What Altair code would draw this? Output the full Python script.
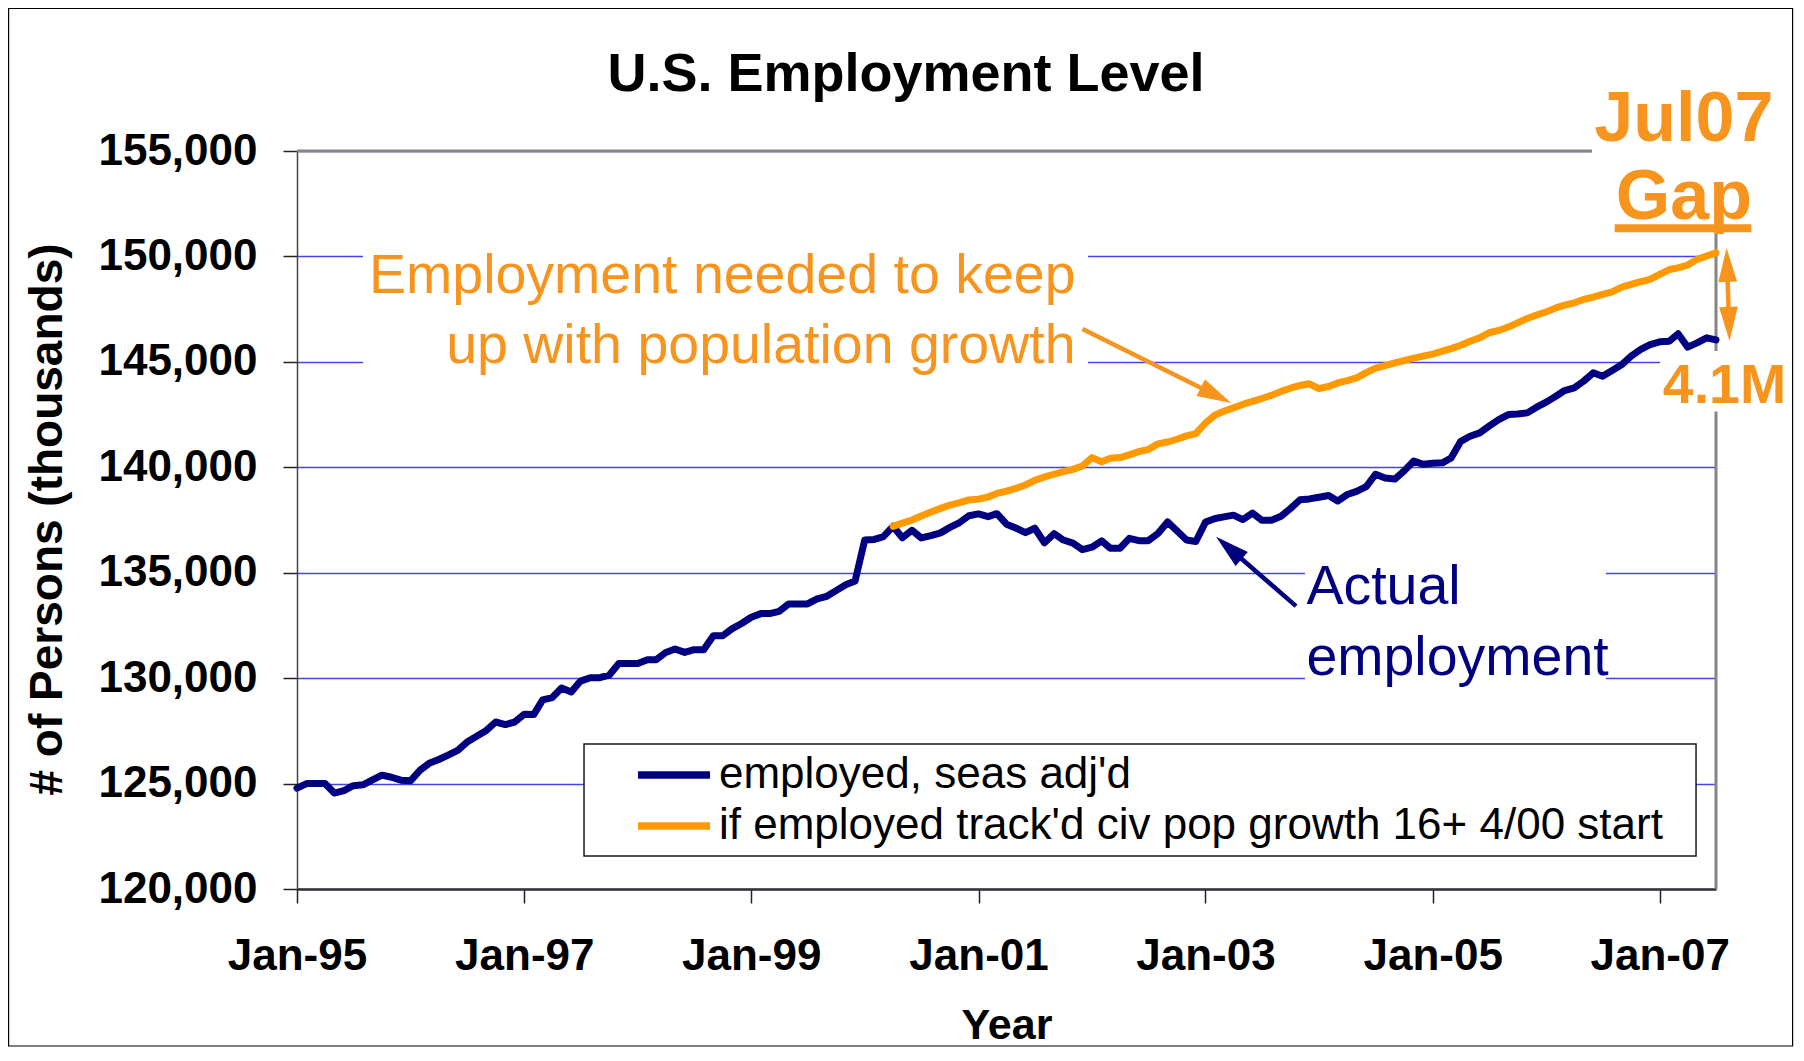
import altair as alt
import pandas as pd

# ---------------- data ----------------
SERIES = ["employed, seas adj'd", "if employed track'd civ pop growth 16+ 4/00 start"]
FIRST_MONTH = "1995-01-01"
LAST_MONTH = "2007-07-01"
NEEDED_FIRST_MONTH = "2000-04-01"

# employed, seasonally adjusted (thousands), Jan-95 .. Jul-07
employed = [
    124780, 125000, 125000, 125000, 124550, 124670, 124900, 124940, 125170, 125400, 125300, 125160,
    125130, 125640, 125960, 126140, 126350, 126580, 126970, 127240, 127520, 127920, 127800, 127920,
    128290, 128280, 128970, 129080, 129530, 129340, 129860, 130020, 130020, 130140, 130690, 130690,
    130690, 130870, 130870, 131220, 131380, 131220, 131350, 131350, 132010, 132010, 132350, 132590,
    132890, 133060, 133060, 133170, 133520, 133520, 133520, 133760, 133880, 134150, 134430, 134610,
    136550, 136580, 136710, 137200, 136660, 137010, 136650, 136760, 136890, 137150, 137380, 137700,
    137790, 137660, 137800, 137300, 137120, 136900, 137110, 136420, 136850, 136550, 136400, 136090,
    136210, 136510, 136160, 136160, 136630, 136520, 136520, 136860, 137410, 136990, 136550, 136480,
    137400, 137570, 137650, 137730, 137520, 137830, 137490, 137490, 137680, 138040, 138460, 138500,
    138580, 138660, 138400, 138710, 138860, 139080, 139670, 139490, 139440, 139830, 140300, 140140,
    140190, 140210, 140440, 141230, 141470, 141630, 141950, 142260, 142500, 142530, 142580, 142850,
    143090, 143370, 143640, 143770, 144080, 144480, 144320, 144590, 144870, 145270, 145590, 145820,
    145950, 145980, 146330, 145700, 145900, 146140, 146040,
]

# employment needed to track civilian population growth, Apr-00 .. Jul-07
needed = [
    137200, 137350, 137500, 137690, 137880, 138050, 138210, 138320, 138450,
    138490, 138590, 138760, 138870, 139000, 139160, 139380, 139540, 139670, 139790, 139900, 140060,
    140460, 140260, 140430, 140460, 140590, 140750, 140840, 141110, 141200, 141330, 141490, 141600,
    142100, 142480, 142660, 142820, 142980, 143130, 143260, 143410, 143600, 143750, 143880, 143960,
    143730, 143830, 144000, 144110, 144240, 144490, 144700, 144820, 144950, 145060, 145180, 145270,
    145370, 145510, 145630, 145790, 145980, 146140, 146380, 146490, 146650, 146850, 147060, 147220,
    147370, 147560, 147690, 147800, 147960, 148070, 148200, 148320, 148540, 148670, 148800, 148910,
    149150, 149380, 149460, 149590, 149860, 150020, 150170,
]

X_TICK_YEARS = [1995, 1997, 1999, 2001, 2003, 2005, 2007]
Y_TICKS = [120000, 125000, 130000, 135000, 140000, 145000, 150000, 155000]
Y_DOMAIN = [120000, 155000]

TITLE = "U.S. Employment Level"
X_TITLE = "Year"
Y_TITLE = "# of Persons (thousands)"

# annotations (x in months after Jan-95, y in thousands of persons)
NEED_TEXT = ["Employment needed to keep", "up with population growth"]
NEED_M = [82.3, 82.3]
NEED_V = [148266, 144946]

ACTUAL_TEXT = ["Actual", "employment"]
ACTUAL_M = [106.7, 106.7]
ACTUAL_V = [133531, 130149]

GAP_TEXT = ["Jul07", "Gap"]
GAP_M = [146.6, 146.6]
GAP_V = [155465, 151790]
GAP_UNDERLINE = (139.29, 153.73, 151339)

GAP_VALUE_TEXT = ["4.1M"]
GAP_VALUE_M = [150.9]
GAP_VALUE_V = [143054]

# arrows: shaft (m0, v0, m1, v1)
ORANGE_SHAFTS = [(83.03, 146563, 96.96, 143457), (151.17, 149646, 151.38, 146754)]
NAVY_SHAFTS = [(105.61, 133417, 98.50, 136182)]
# arrow heads: (m, v, angle)
ORANGE_HEADS = [(98.75, 143054, 116.5), (151.12, 150405, 358.2), (151.43, 145995, 178.2)]
NAVY_HEADS = [(97.15, 136708, 311.0)]

# white backgrounds of the text boxes: (m0, m1, v0, v1)
TEXT_BOXES = [
    (6.98, 83.62, 150779, 144140),
    (106.55, 138.37, 135840, 129438),
    (136.89, 157.8, 159316, 151071),
    (144.08, 157.8, 145515, 142646),
]
LEGEND_BOX = (30.34, 147.89, 126877, 121565)

# ---------------- helpers ----------------
T0 = pd.Timestamp(FIRST_MONTH)
T1 = pd.Timestamp(LAST_MONTH)
SPAN = 150.0


def fmt(ts):
    return pd.Timestamp(ts).strftime("%Y-%m-%dT%H:%M:%S")


def mdate(m):
    return fmt(T0 + (T1 - T0) * (m / SPAN))


FONT = "Liberation Sans"
NAVY = "#000080"
ORANGE = "#FF9900"
ORANGE_TXT = "#F7941D"
GRID = "#4343EE"

months = pd.date_range(T0, T1, freq="MS")
need_months = pd.date_range(pd.Timestamp(NEEDED_FIRST_MONTH), T1, freq="MS")
df = pd.concat([
    pd.DataFrame({"date": [fmt(d) for d in months], "value": employed, "series": SERIES[0]}),
    pd.DataFrame({"date": [fmt(d) for d in need_months], "value": needed, "series": SERIES[1]}),
])

xscale = alt.Scale(domain=[alt.DateTime(year=1995, month=1, date=1),
                           alt.DateTime(year=2007, month=7, date=1)])
yscale = alt.Scale(domain=Y_DOMAIN, nice=False, zero=False)

xaxis = alt.Axis(
    values=[alt.DateTime(year=y, month=1, date=1) for y in X_TICK_YEARS],
    format="%b-%y", title=X_TITLE, grid=False,
    labelFont=FONT, labelFontSize=44, labelFontWeight="bold", labelColor="black",
    labelPadding=31, labelFlush=False, labelOverlap=False,
    tickSize=14, tickColor="#222222", tickWidth=1.5,
    domainColor="#333333", domainWidth=2.5,
    titleFont=FONT, titleFontSize=43, titleFontWeight="bold", titleColor="black",
    titleY=149, titleBaseline="alphabetic",
)
yaxis = alt.Axis(
    values=Y_TICKS, format=",d", title=Y_TITLE, grid=True,
    gridColor=GRID, gridWidth=1.3,
    labelFont=FONT, labelFontSize=44, labelFontWeight="bold", labelColor="black",
    labelPadding=26, labelOverlap=False,
    tickSize=14, tickColor="#222222", tickWidth=1.5,
    domainColor="#444444", domainWidth=1.5,
    titleFont=FONT, titleFontSize=46, titleFontWeight="bold", titleColor="black",
    titleAngle=270, titleX=-236, titleY=368, titleAlign="center", titleBaseline="alphabetic",
)


def X(field="date"):
    return alt.X(f"{field}:T", scale=xscale, axis=xaxis)


def Y(field="value"):
    return alt.Y(f"{field}:Q", scale=yscale, axis=yaxis)


one = pd.DataFrame({"a": [0]})

# frame around the whole picture
frame = alt.Chart(one).mark_rect(fillOpacity=0, stroke="black", strokeWidth=1.2).encode(
    x=alt.value(-288.4), x2=alt.value(1495.6), y=alt.value(-142.5), y2=alt.value(895)
)

# plot-area top and right borders
border_df = pd.DataFrame({
    "date": [fmt(T0), fmt(T1)], "date2": [fmt(T1), fmt(T1)],
    "value": [Y_DOMAIN[1], Y_DOMAIN[0]], "value2": [Y_DOMAIN[1], Y_DOMAIN[1]],
})
borders = alt.Chart(border_df).mark_rule(color="#858585", strokeWidth=3).encode(
    x=X(), x2="date2:T", y=Y(), y2="value2:Q"
)

box_df = pd.DataFrame({
    "date": [mdate(b[0]) for b in TEXT_BOXES], "date2": [mdate(b[1]) for b in TEXT_BOXES],
    "value": [b[2] for b in TEXT_BOXES], "value2": [b[3] for b in TEXT_BOXES],
})
boxes = alt.Chart(box_df).mark_rect(color="white").encode(
    x=X(), x2="date2:T", y=Y(), y2="value2:Q"
)

leg_df = pd.DataFrame({"date": [mdate(LEGEND_BOX[0])], "date2": [mdate(LEGEND_BOX[1])],
                       "value": [LEGEND_BOX[2]], "value2": [LEGEND_BOX[3]]})
legend_box = alt.Chart(leg_df).mark_rect(fill="white", stroke="#1a1a1a", strokeWidth=1.5).encode(
    x=X(), x2="date2:T", y=Y(), y2="value2:Q"
)

lines = alt.Chart(df).mark_line(strokeWidth=7, strokeJoin="round", strokeCap="round").encode(
    x=X(), y=Y(),
    color=alt.Color(
        "series:N",
        scale=alt.Scale(domain=SERIES, range=[NAVY, ORANGE]),
        sort=SERIES,
        legend=alt.Legend(
            title=None, orient="none", legendX=355, legendY=602, direction="vertical",
            labelFont=FONT, labelFontSize=44, labelColor="black", labelLimit=1500,
            symbolType="M-2.25,0H2.25", symbolSize=1024, symbolStrokeWidth=7.5,
            labelOffset=23, rowPadding=7, padding=0,
        ),
    ),
)


def shafts(spec, color, width):
    d = pd.DataFrame({
        "date": [mdate(s[0]) for s in spec], "value": [s[1] for s in spec],
        "date2": [mdate(s[2]) for s in spec], "value2": [s[3] for s in spec],
    })
    return alt.Chart(d).mark_rule(color=color, strokeWidth=width).encode(
        x=X(), x2="date2:T", y=Y(), y2="value2:Q"
    )


HEAD_PATH = "M0,0L0.55,2L-0.55,2Z"


def heads(spec, color):
    d = pd.DataFrame({
        "date": [mdate(s[0]) for s in spec], "value": [s[1] for s in spec],
        "angle": [s[2] for s in spec],
    })
    return alt.Chart(d).mark_point(shape=HEAD_PATH, filled=True, size=1156, opacity=1,
                                   color=color, strokeWidth=0).encode(
        x=X(), y=Y(), angle=alt.Angle("angle:Q", scale=None)
    )


def texts(labels, ms, vs, color, size, weight, align):
    d = pd.DataFrame({"label": labels, "date": [mdate(m) for m in ms], "value": vs})
    return alt.Chart(d).mark_text(
        font=FONT, fontSize=size, fontWeight=weight, color=color, align=align,
        baseline="alphabetic"
    ).encode(x=X(), y=Y(), text="label:N")


underline_df = pd.DataFrame({"date": [mdate(GAP_UNDERLINE[0])], "date2": [mdate(GAP_UNDERLINE[1])],
                             "value": [GAP_UNDERLINE[2]]})
underline = alt.Chart(underline_df).mark_rule(color=ORANGE_TXT, strokeWidth=8).encode(
    x=X(), x2="date2:T", y=Y()
)

title = alt.Chart(one).mark_text(
    text=TITLE, font=FONT, fontSize=54, fontWeight="bold", color="black",
    align="center", baseline="alphabetic"
).encode(x=alt.value(609), y=alt.value(-60))

chart = alt.layer(
    frame,
    borders,
    boxes,
    legend_box,
    lines,
    shafts(ORANGE_SHAFTS, ORANGE_TXT, 4.5),
    shafts(NAVY_SHAFTS, NAVY, 4.5),
    heads(ORANGE_HEADS, ORANGE_TXT),
    heads(NAVY_HEADS, NAVY),
    texts(NEED_TEXT, NEED_M, NEED_V, ORANGE_TXT, 55.5, "normal", "right"),
    texts(ACTUAL_TEXT, ACTUAL_M, ACTUAL_V, NAVY, 55.5, "normal", "left"),
    texts(GAP_TEXT, GAP_M, GAP_V, ORANGE_TXT, 70, "bold", "center"),
    underline,
    texts(GAP_VALUE_TEXT, GAP_VALUE_M, GAP_VALUE_V, ORANGE_TXT, 55.5, "bold", "center"),
    title,
).properties(
    width=1419, height=738,
    padding={"left": 289, "top": 143, "right": 80, "bottom": 158},
    autosize=alt.AutoSizeParams(type="none"),
).configure_view(stroke=None).configure(font=FONT)

chart.save("out.html", embed_options={"renderer": "svg", "actions": False})
